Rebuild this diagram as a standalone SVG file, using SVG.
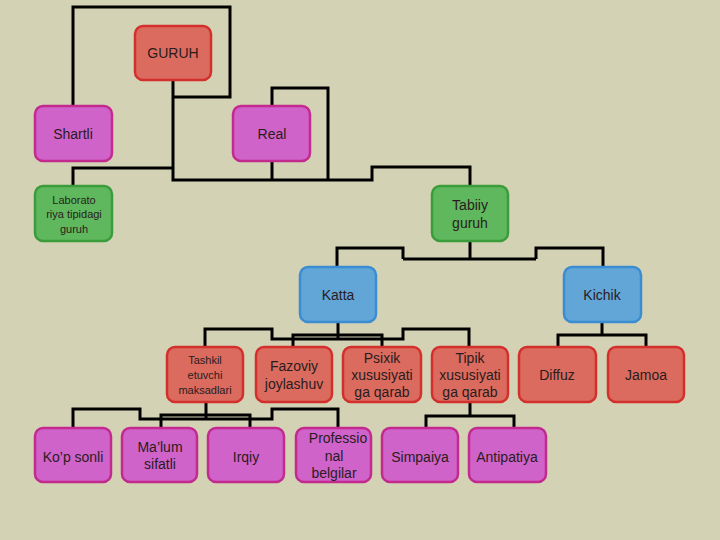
<svg xmlns="http://www.w3.org/2000/svg" width="720" height="540" viewBox="0 0 720 540">
<style>
.n rect{stroke-width:2.5}
.red rect{fill:#db6b5f;stroke:#d3302d}
.mag rect{fill:#cf63c9;stroke:#c22a8e}
.grn rect{fill:#5fb85d;stroke:#3a9c3a}
.blu rect{fill:#62a6d8;stroke:#3b8dd2}
text{font-family:"Liberation Sans",Arial,sans-serif;fill:#2a1c1c;text-anchor:middle}
.t14{font-size:14px}
.t11{font-size:11px}
#edges path{fill:none;stroke:#000;stroke-width:3}
</style>
<rect width="720" height="540" fill="#d4d2b5"/>
<g id="edges">
<path d="M73,106 V7 H230 V97 H173"/>
<path d="M173,80 V180 H372 V167 H470 V186"/>
<path d="M73,186 V168 H173"/>
<path d="M272,106 V88 H328 V180"/>
<path d="M272,161 V180"/>
<path d="M470,241 V259"/>
<path d="M403,259 H536"/>
<path d="M403,259 V248 H337 V267"/>
<path d="M536,259 V248 H603 V267"/>
<path d="M602,322 V335"/>
<path d="M558,347 V335 H646 V347"/>
<path d="M338,322 V339"/>
<path d="M205,347 V329 H272 V339 H403 V329 H469 V347"/>
<path d="M293,347 V335 H382 V347"/>
<path d="M206,402 V419"/>
<path d="M73,428 V409 H140 V419 H272 V409 H338 V428"/>
<path d="M161,428 V415 H250 V428"/>
<path d="M470,402 V416"/>
<path d="M426,428 V416 H514 V428"/>
</g>
<g id="guruh" class="n red"><rect x="135" y="26" width="76" height="54" rx="8"/><text class="t14" x="173" y="58">GURUH</text></g>
<g id="shartli" class="n mag"><rect x="35" y="106" width="77" height="55" rx="8"/><text class="t14" x="73" y="139">Shartli</text></g>
<g id="real" class="n mag"><rect x="233" y="106" width="77" height="55" rx="8"/><text class="t14" x="272" y="139">Real</text></g>
<g id="laborato" class="n grn"><rect x="35" y="186" width="77" height="55" rx="8"/><text class="t11"><tspan x="74" y="204">Laborato</tspan><tspan x="74" y="218">riya tipidagi</tspan><tspan x="74" y="233">guruh</tspan></text></g>
<g id="tabiiy" class="n grn"><rect x="432" y="186" width="76" height="55" rx="8"/><text class="t14"><tspan x="470" y="210">Tabiiy</tspan><tspan x="470" y="228">guruh</tspan></text></g>
<g id="katta" class="n blu"><rect x="300" y="267" width="76" height="55" rx="8"/><text class="t14" x="338" y="300">Katta</text></g>
<g id="kichik" class="n blu"><rect x="564" y="267" width="77" height="55" rx="8"/><text class="t14" x="602" y="300">Kichik</text></g>
<g id="tashkil" class="n red"><rect x="167" y="347" width="76" height="55" rx="8"/><text class="t11"><tspan x="205" y="364">Tashkil</tspan><tspan x="205" y="379">etuvchi</tspan><tspan x="205" y="394">maksadlari</tspan></text></g>
<g id="fazoviy" class="n red"><rect x="256" y="347" width="76" height="55" rx="8"/><text class="t14"><tspan x="294" y="371">Fazoviy</tspan><tspan x="294" y="389">joylashuv</tspan></text></g>
<g id="psixik" class="n red"><rect x="343" y="347" width="78" height="55" rx="8"/><text class="t14"><tspan x="382" y="363">Psixik</tspan><tspan x="382" y="380">xususiyati</tspan><tspan x="382" y="397">ga qarab</tspan></text></g>
<g id="tipik" class="n red"><rect x="432" y="347" width="76" height="55" rx="8"/><text class="t14"><tspan x="470" y="363">Tipik</tspan><tspan x="470" y="380">xususiyati</tspan><tspan x="470" y="397">ga qarab</tspan></text></g>
<g id="diffuz" class="n red"><rect x="519" y="347" width="77" height="55" rx="8"/><text class="t14" x="557" y="380">Diffuz</text></g>
<g id="jamoa" class="n red"><rect x="608" y="347" width="76" height="55" rx="8"/><text class="t14" x="646" y="380">Jamoa</text></g>
<g id="kopsonli" class="n mag"><rect x="35" y="428" width="76" height="54" rx="8"/><text class="t14" x="73" y="462">Ko’p sonli</text></g>
<g id="malum" class="n mag"><rect x="122" y="428" width="75" height="54" rx="8"/><text class="t14"><tspan x="160" y="452">Ma’lum</tspan><tspan x="160" y="469">sifatli</tspan></text></g>
<g id="irqiy" class="n mag"><rect x="208" y="428" width="76" height="54" rx="8"/><text class="t14" x="246" y="462">Irqiy</text></g>
<g id="professio" class="n mag"><rect x="296" y="428" width="75" height="54" rx="8"/><text class="t14"><tspan x="338" y="443">Professio</tspan><tspan x="334" y="461">nal</tspan><tspan x="334" y="478">belgilar</tspan></text></g>
<g id="simpaiya" class="n mag"><rect x="382" y="428" width="76" height="54" rx="8"/><text class="t14" x="420" y="462">Simpaiya</text></g>
<g id="antipatiya" class="n mag"><rect x="469" y="428" width="77" height="54" rx="8"/><text class="t14" x="507" y="462">Antipatiya</text></g>
</svg>
